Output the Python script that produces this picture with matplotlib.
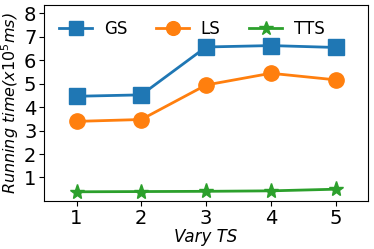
import numpy as np
import matplotlib.pyplot as plt

x = [1, 2, 3, 4, 5]
gs = [4.46, 4.52, 6.56, 6.62, 6.54]
ls = [3.39, 3.47, 4.94, 5.44, 5.16]
tts = [0.39, 0.40, 0.41, 0.43, 0.50]

fig, ax = plt.subplots(figsize=(3.74, 2.49), dpi=100)
ax.plot(x, gs, marker='s', markersize=11, linewidth=2, label='GS')
ax.plot(x, ls, marker='o', markersize=11, linewidth=2, label='LS')
ax.plot(x, tts, marker='*', markersize=11, linewidth=2, label='TTS')

ax.set_xlim(0.5, 5.5)
ax.set_ylim(0, 8.35)
ax.set_xticks(x)
ax.set_yticks([1, 2, 3, 4, 5, 6, 7, 8])
ax.tick_params(labelsize=14, pad=2)
ax.set_xlabel('Vary TS', fontsize=12, style='italic', labelpad=0)
ax.set_ylabel('Running time($x10^5ms$)', fontsize=11.5, style='italic', labelpad=2)
ax.legend(loc='upper left', ncol=3, frameon=False, fontsize=12,
          borderaxespad=0.5, columnspacing=1.7, handlelength=2,
          handletextpad=0.7, markerscale=0.9)

plt.subplots_adjust(left=0.118, right=0.984, top=0.98, bottom=0.193)
plt.savefig('out.png')
